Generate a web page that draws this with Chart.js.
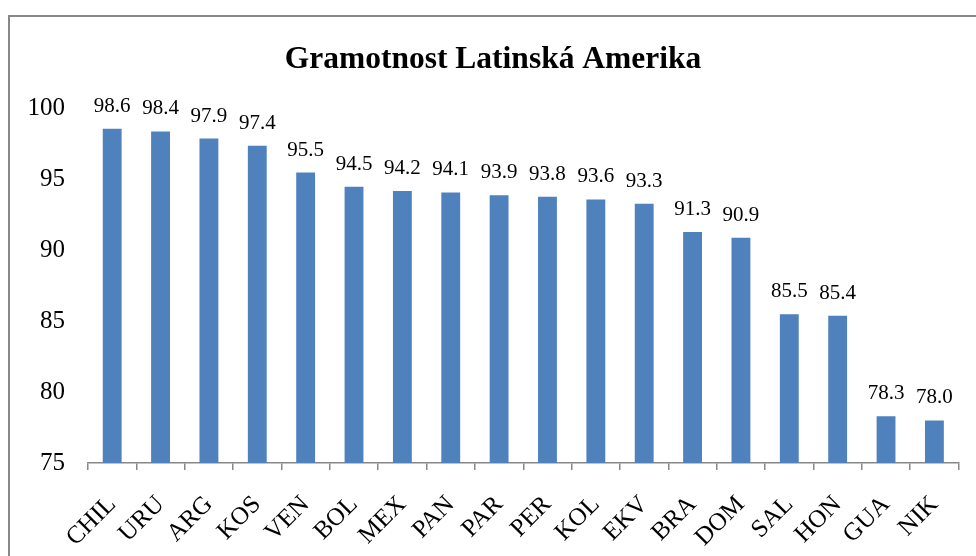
<!DOCTYPE html>
<html>
<head>
<meta charset="utf-8">
<script src="https://cdn.jsdelivr.net/npm/chart.js@4"></script>
<style>
    html, body { margin: 0; padding: 0; width: 976px; height: 556px; overflow: hidden; background: #fff; }
    #frame { position: absolute; left: 8px; top: 15px; width: 2000px; height: 2000px; border: 2px solid #888; }
    #wrap { position: absolute; left: 0; top: 0; width: 976px; height: 556px; }
</style>
</head>
<body>
<div id="frame"></div>
<div id="wrap"><canvas id="gramotnost-chart" width="976" height="556"></canvas></div>
<script>
var titleText = "Gramotnost Latinská Amerika";
var countries = ["CHIL", "URU", "ARG", "KOS", "VEN", "BOL", "MEX", "PAN", "PAR", "PER", "KOL", "EKV", "BRA", "DOM", "SAL", "HON", "GUA", "NIK"];
var literacy = [98.6, 98.4, 97.9, 97.4, 95.5, 94.5, 94.2, 94.1, 93.9, 93.8, 93.6, 93.3, 91.3, 90.9, 85.5, 85.4, 78.3, 78.0];
var yTicks = [75, 80, 85, 90, 95, 100];

var serif = "'Liberation Serif', 'Times New Roman', serif";

// popisky hodnot nad sloupci
var valueLabels = {
    id: "valueLabels",
    afterDatasetsDraw: function (chart) {
        var ctx = chart.ctx;
        var meta = chart.getDatasetMeta(0);
        ctx.save();
        ctx.font = "21px " + serif;
        ctx.fillStyle = "#000";
        ctx.textAlign = "center";
        ctx.textBaseline = "alphabetic";
        meta.data.forEach(function (bar, i) {
            ctx.fillText(literacy[i].toFixed(1), bar.x, bar.y - 17);
        });
        ctx.restore();
    }
};

var ctx = document.getElementById("gramotnost-chart").getContext("2d");
new Chart(ctx, {
    type: "bar",
    data: {
        labels: countries,
        datasets: [{
            data: literacy,
            backgroundColor: "#4F81BD",
            borderWidth: 0,
            barPercentage: 0.39,
            categoryPercentage: 1
        }]
    },
    options: {
        responsive: false,
        animation: false,
        layout: {
            padding: { top: 15, left: 24, right: 14, bottom: 0 }
        },
        plugins: {
            legend: { display: false },
            tooltip: { enabled: false },
            title: {
                display: true,
                text: titleText,
                color: "#000",
                font: { family: serif, size: 31.5, weight: "bold" },
                padding: { top: 26, bottom: 30 }
            }
        },
        scales: {
            x: {
                afterFit: function (scale) { scale.height = 93; },
                grid: {
                    offset: true,
                    drawOnChartArea: false,
                    drawTicks: true,
                    tickLength: 7,
                    color: "#888",
                    lineWidth: 1.5
                },
                border: { display: true, color: "#888", width: 1.5 },
                ticks: {
                    color: "#000",
                    font: { family: serif, size: 25 },
                    minRotation: 45,
                    maxRotation: 45,
                    autoSkip: false,
                    padding: 20
                }
            },
            y: {
                min: 75,
                max: 100,
                afterFit: function (scale) { scale.width = 64; },
                afterBuildTicks: function (scale) {
                    scale.ticks = yTicks.map(function (v) { return { value: v }; });
                },
                grid: { display: false },
                border: { display: false },
                ticks: {
                    color: "#000",
                    font: { family: serif, size: 25 },
                    padding: 15
                }
            }
        }
    },
    plugins: [valueLabels]
});
</script>
</body>
</html>
